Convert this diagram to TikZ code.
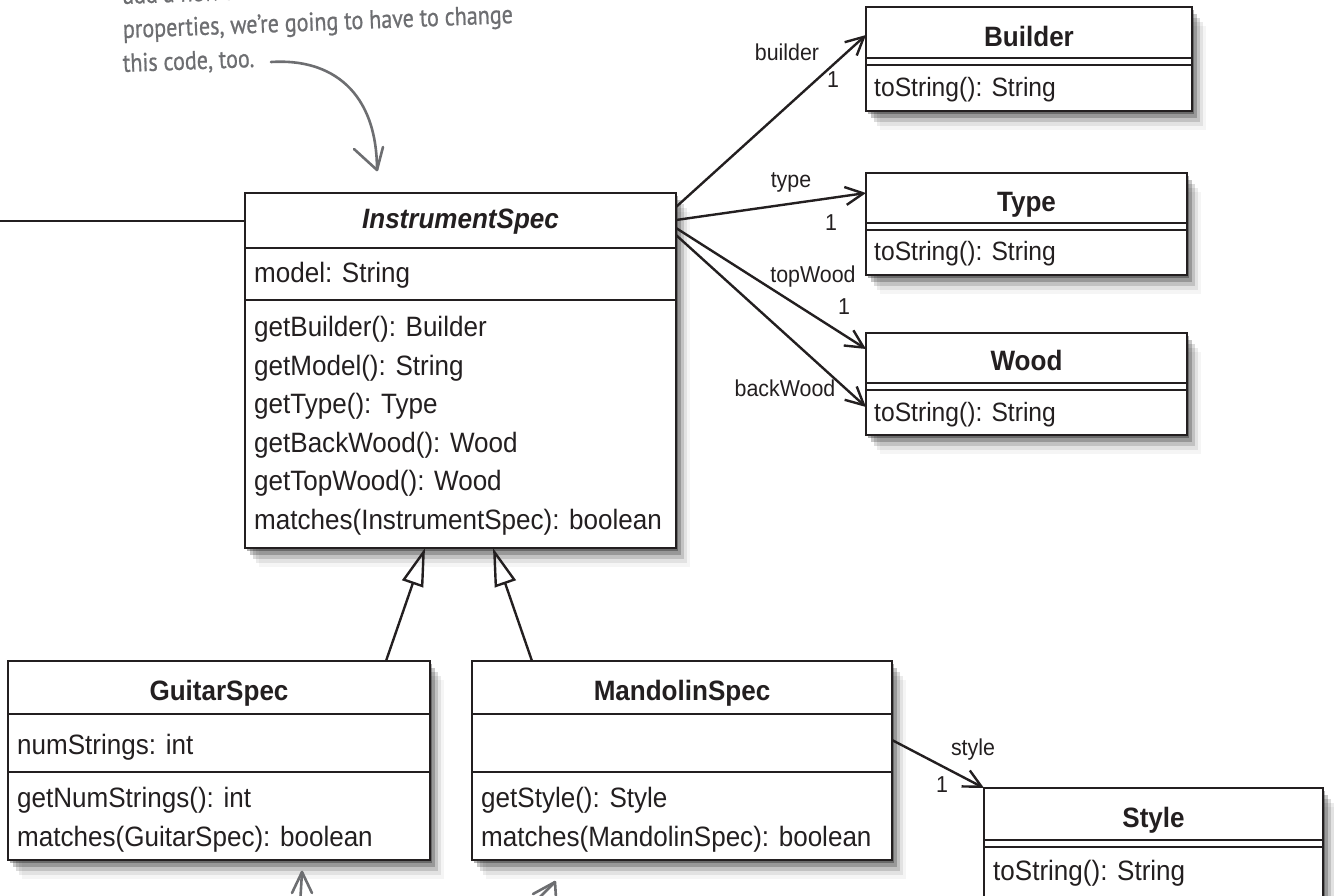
\documentclass[tikz,border=0pt]{standalone}
\usepackage{fontspec}
\setmainfont{Liberation Sans}[FakeStretch=0.93]
\newfontfamily\handfont{PT Sans}[FakeStretch=0.85,FakeBold=0.8]
\usetikzlibrary{arrows.meta,shadows,calc}
\definecolor{ink}{HTML}{231F20}
\definecolor{notegray}{HTML}{6D6E71}
\begin{document}
\begin{tikzpicture}[x=1pt,y=-1pt,
  softshadow/.style={
    general shadow={shadow xshift=2pt,shadow yshift=-3pt,fill=black,opacity=0.3},
    general shadow={shadow xshift=5pt,shadow yshift=-7pt,fill=black,opacity=0.22},
    general shadow={shadow xshift=8pt,shadow yshift=-11pt,fill=black,opacity=0.14},
    general shadow={shadow xshift=11pt,shadow yshift=-15pt,fill=black,opacity=0.08},
    general shadow={shadow xshift=14pt,shadow yshift=-19pt,fill=black,opacity=0.04}},
  frame/.style={draw=ink,line width=2.8pt,fill=white,anchor=north west,inner sep=0pt,outer sep=0pt,softshadow},
  hdr/.style={anchor=base,inner sep=0pt,text=ink,font=\fontsize{28}{34}\selectfont\bfseries},
  member/.style={anchor=base west,inner sep=0pt,text=ink,font=\fontsize{28}{34}\selectfont},
  smallmember/.style={member,font=\fontsize{26.5}{32}\selectfont},
  role/.style={inner sep=0pt,text=ink,font=\fontsize{23}{28}\selectfont},
  div/.style={draw=ink,line width=2.4pt},
  assoc/.style={draw=ink,line width=2.4pt,-{Straight Barb[length=18pt,width=18pt,line width=2.4pt]}},
  inherit/.style={draw=ink,line width=2.4pt,-{Triangle[open,length=38pt,width=22pt,line width=2.4pt]}},
  hand/.style={anchor=base west,inner sep=0pt,text=notegray,rotate=2.2,font=\handfont\fontsize{26}{30}\selectfont},
  notepen/.style={draw=notegray,line width=2.6pt,line cap=round,line join=round}
]
\useasboundingbox (0,0) rectangle (1334,895);
\clip (0,0) rectangle (1334,895);

% ---------- InstrumentSpec ----------
\node[frame,minimum width=431pt,minimum height=355pt] (inst) at (245,193) {};
\node[hdr,font=\fontsize{28}{34}\selectfont\bfseries\itshape] (instT) at (460.5,228) {InstrumentSpec};
\draw[div] (245,248) -- (676,248);
\draw[div] (245,300) -- (676,300);
\node[member] (instA) at (254,282) {model: String};
\node[member] (instM1) at (254,336) {getBuilder(): Builder};
\node[member] (instM2) at (254,375) {getModel(): String};
\node[member] (instM3) at (254,413) {getType(): Type};
\node[member] (instM4) at (254,452) {getBackWood(): Wood};
\node[member] (instM5) at (254,490) {getTopWood(): Wood};
\node[member] (instM6) at (254,529) {matches(InstrumentSpec): boolean};

% ---------- Builder ----------
\node[frame,minimum width=326pt,minimum height=104pt] (builder) at (866,7) {};
\node[hdr] (builderT) at (1029,46) {Builder};
\draw[div] (866,58) -- (1192,58);
\draw[div] (866,65) -- (1192,65);
\node[smallmember] (builderM) at (874,96) {toString(): String};

% ---------- Type ----------
\node[frame,minimum width=321pt,minimum height=102pt] (type) at (866,173) {};
\node[hdr] (typeT) at (1026.5,211) {Type};
\draw[div] (866,223) -- (1187,223);
\draw[div] (866,230) -- (1187,230);
\node[smallmember] (typeM) at (874,260) {toString(): String};

% ---------- Wood ----------
\node[frame,minimum width=321pt,minimum height=102pt] (wood) at (866,333) {};
\node[hdr] (woodT) at (1026.5,370) {Wood};
\draw[div] (866,383) -- (1187,383);
\draw[div] (866,390) -- (1187,390);
\node[smallmember] (woodM) at (874,421) {toString(): String};

% ---------- GuitarSpec ----------
\node[frame,minimum width=422pt,minimum height=199pt] (guitar) at (8,661) {};
\node[hdr] (guitarT) at (219,700) {GuitarSpec};
\draw[div] (8,714) -- (430,714);
\draw[div] (8,772) -- (430,772);
\node[member] (guitarA) at (17,754) {numStrings: int};
\node[member] (guitarM1) at (17,807) {getNumStrings(): int};
\node[member] (guitarM2) at (17,846) {matches(GuitarSpec): boolean};

% ---------- MandolinSpec ----------
\node[frame,minimum width=420pt,minimum height=199pt] (mando) at (472,661) {};
\node[hdr] (mandoT) at (682,700) {MandolinSpec};
\draw[div] (472,714) -- (892,714);
\draw[div] (472,772) -- (892,772);
\node[member] (mandoM1) at (481,807) {getStyle(): Style};
\node[member] (mandoM2) at (481,846) {matches(MandolinSpec): boolean};

% ---------- Style ----------
\node[frame,minimum width=339pt,minimum height=140pt] (style) at (984,788) {};
\node[hdr] (styleT) at (1153.5,827) {Style};
\draw[div] (984,840) -- (1323,840);
\draw[div] (984,847) -- (1323,847);
\node[member] (styleM) at (993,880) {toString(): String};

% ---------- connectors ----------
\coordinate (edgeL) at (0,221);
\draw[div] (edgeL) -- (edgeL -| inst.west);

\draw[assoc] ($(inst.north east)+(0,14)$) -- ($(builder.north west)+(0,28)$);
\draw[assoc] ($(inst.north east)+(0,27)$) -- ($(type.north west)+(0,20)$);
\draw[assoc] ($(inst.north east)+(0,35)$) -- ($(wood.north west)+(0,16)$);
\draw[assoc] ($(inst.north east)+(0,42)$) -- ($(wood.north west)+(0,74)$);
\draw[assoc] ($(mando.north east)+(0,79)$) -- (style.north west);

\draw[inherit] ($(guitar.north west)+(378,0)$) -- ($(inst.south west)+(180,0)$);
\draw[inherit] ($(mando.north west)+(60,0)$) -- ($(inst.south west)+(248,0)$);

% ---------- role labels ----------
\node[role] (lBuilder) at (787,52) {builder};
\node[role] (mBuilder) at (833,80) {1};
\node[role] (lType) at (791,182) {type};
\node[role] (mType) at (831,223) {1};
\node[role] (lTop) at (813,277) {topWood};
\node[role] (mTop) at (844,307) {1};
\node[role] (lBack) at (785,388) {backWood};
\node[role] (lStyle) at (973,750) {style};
\node[role] (mStyle) at (942,785) {1};

% ---------- handwritten note ----------
\node[hand] (note1) at (123,4) {add a new instrument with};
\node[hand] (note2) at (123,38) {properties, we’re going to have to change};
\node[hand] (note3) at (123,72) {this code, too.};
\coordinate (noteStart) at (271,62);
\coordinate (noteTip) at (377,170);
\draw[notepen] (noteStart) .. controls (332,58) and (377,92) .. (noteTip);
\draw[notepen] (noteTip) -- ++(-23,-21) (noteTip) -- ++(6,-23);

\coordinate (tipA) at (302,872);
\coordinate (tailA) at (300,905);
\draw[notepen] (tailA) -- (tipA);
\draw[notepen] (tipA) -- ++(-10,21) (tipA) -- ++(10,21);
\coordinate (tipB) at (555,882);
\coordinate (tailB) at (532,905);
\draw[notepen] (tailB) -- (tipB);
\draw[notepen] (tipB) -- ++(-22,12) (tipB) -- ++(1,16);
\end{tikzpicture}
\end{document}
